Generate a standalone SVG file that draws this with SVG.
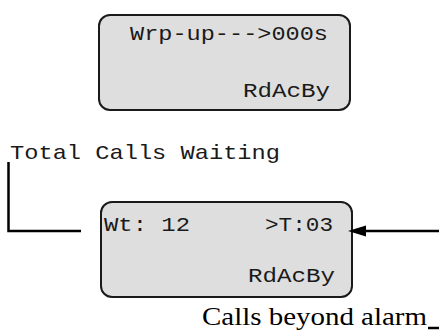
<svg xmlns="http://www.w3.org/2000/svg" width="439" height="331" viewBox="0 0 439 331">
<defs>
<style>
.box{fill:#dedede;stroke:#1a1a1a;stroke-width:2}
.mono{font-family:"Liberation Mono","Courier New",monospace;font-size:21px;fill:#1a1a1a}
.serif{font-family:"Liberation Serif","Times New Roman",serif;font-size:25px;fill:#000}
.conn{stroke:#000;stroke-width:2.5;fill:none}
</style>
</defs>
<rect width="439" height="331" fill="#fff"/>
<g id="display-top">
<rect class="box" x="99" y="15" width="251" height="95" rx="11"/>
<text class="mono" x="130" y="40" textLength="198" lengthAdjust="spacingAndGlyphs">Wrp-up---&gt;000s</text>
<text class="mono" x="243" y="97" textLength="87" lengthAdjust="spacingAndGlyphs">RdAcBy</text>
</g>
<g id="display-bottom">
<rect class="box" x="101" y="202" width="251" height="95" rx="11"/>
<text class="mono" x="104" y="231" textLength="86" lengthAdjust="spacingAndGlyphs">Wt: 12</text>
<text class="mono" x="265" y="231" textLength="68" lengthAdjust="spacingAndGlyphs">&gt;T:03</text>
<text class="mono" x="248" y="282" textLength="87" lengthAdjust="spacingAndGlyphs">RdAcBy</text>
</g>
<g id="label-total">
<text class="mono" x="10" y="159" textLength="270" lengthAdjust="spacingAndGlyphs">Total Calls Waiting</text>
</g>
<g id="label-alarm">
<text class="serif" x="202" y="325" textLength="225" lengthAdjust="spacingAndGlyphs">Calls beyond alarm</text>
</g>
<g id="connectors">
<polyline class="conn" points="8.5,162 8.5,231 81,231"/>
<line class="conn" x1="439" y1="231" x2="362" y2="231"/>
<path d="M348,231 L366,225.5 L366,236.5 z" fill="#000"/>
<line class="conn" x1="428" y1="328" x2="439" y2="328"/>
</g>
</svg>
